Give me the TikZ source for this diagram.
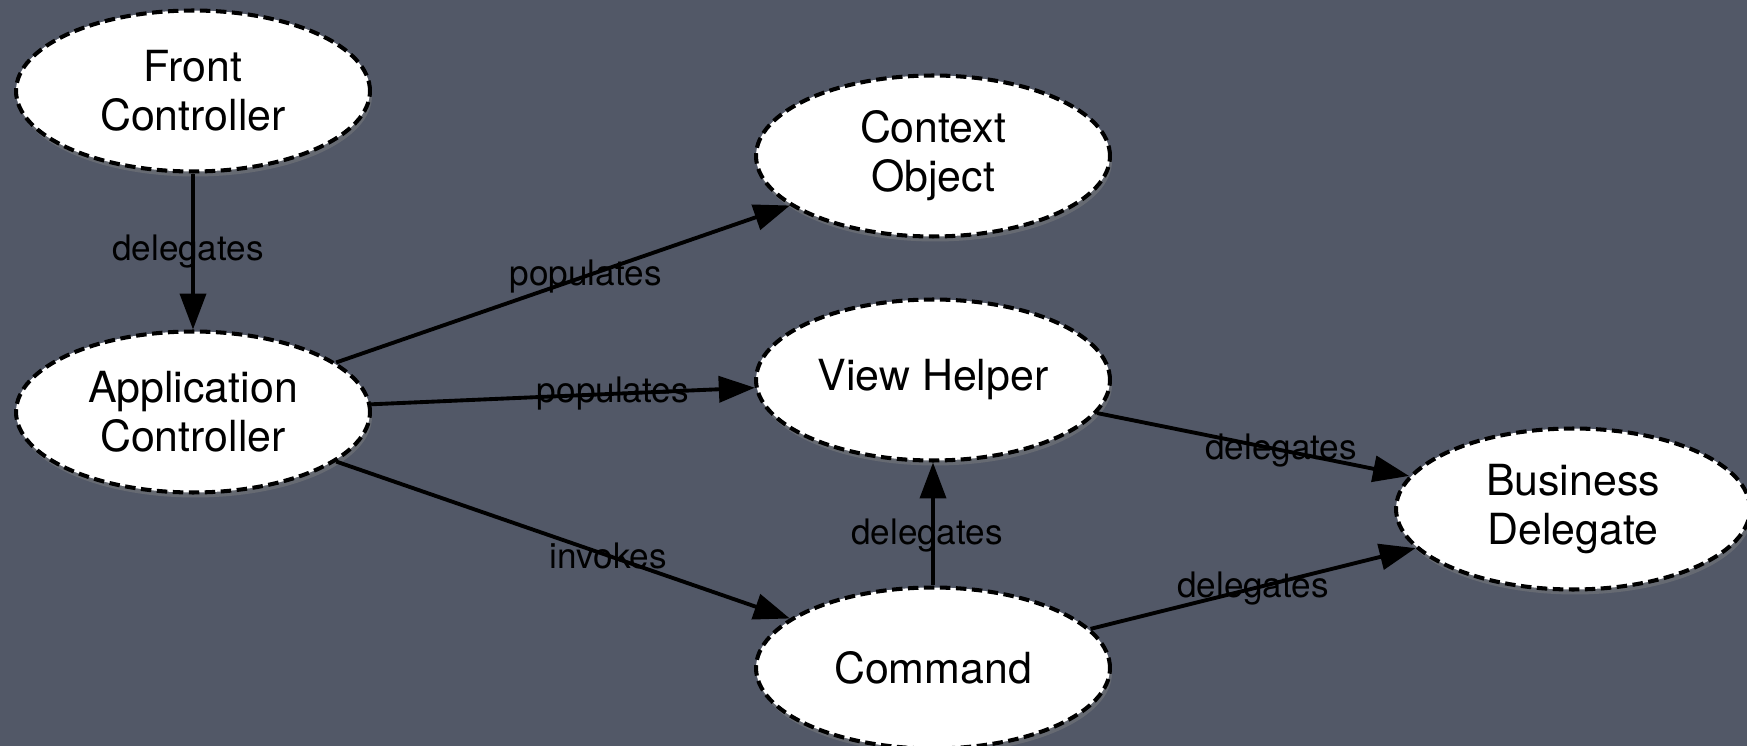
\documentclass[tikz,border=0pt]{standalone}
\usepackage{fontspec}
\setmainfont{TeX Gyre Heros}
\usetikzlibrary{shapes.geometric,arrows.meta,shadows}
\definecolor{slate}{RGB}{82,88,103}
\tikzset{%
    entity/.style={ellipse,draw,fill=white,line width=2.3pt,dash pattern=on 0.21cm off 0.11cm,
        minimum width=7.08cm,minimum height=3.22cm,inner sep=0pt,align=center,
        font=\fontsize{24.4}{27.8}\selectfont,
        drop shadow={opacity=0.45,shadow xshift=0.04cm,shadow yshift=-0.1cm}},
    rel/.style={-{Triangle[length=0.72cm,width=0.52cm]},line width=2.2pt},
    lbl/.style={inner sep=0pt,font=\fontsize{20}{24}\selectfont},
}
\begin{document}
\begin{tikzpicture}[x=0.02cm,y=-0.02cm]
        \useasboundingbox (0,0) rectangle (1747,746);
        \fill[slate] (0,0) rectangle (1747,746);

        \node[entity] (fc) at (193,91) {Front\\Controller};
        \node[entity] (ac) at (193,412) {Application\\Controller};
        \node[entity] (ctx) at (933,156) {Context\\Object};
        \node[entity] (vh) at (933,380) {View Helper};
        \node[entity] (cmd) at (933,668) {Command};
        \node[entity] (bd) at (1573,509) {Business\\Delegate};

        \draw[rel] (fc) -- node[lbl,xshift=-0.1cm] {delegates} (ac);
        \draw[rel] (ac) -- node[lbl,pos=0.55] {populates} (ctx);
        \draw[rel] (ac) -- node[lbl,pos=0.63] {populates} (vh);
        \draw[rel] (ac) -- node[lbl,pos=0.6] {invokes} (cmd);
        \draw[rel] (cmd) -- node[lbl,pos=0.41,xshift=-0.12cm] {delegates} (vh);
        \draw[rel] (vh) -- node[lbl,pos=0.59] {delegates} (bd);
        \draw[rel] (cmd) -- node[lbl] {delegates} (bd);
      \end{tikzpicture}
\end{document}
